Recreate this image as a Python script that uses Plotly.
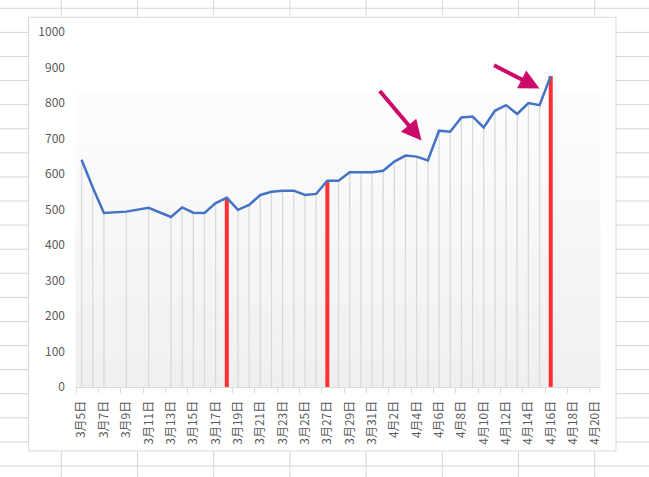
import plotly.graph_objects as go

# ---- data ----
dates = ["2020-03-05", "2020-03-06", "2020-03-07", "2020-03-09", "2020-03-11",
         "2020-03-13", "2020-03-14", "2020-03-15", "2020-03-16", "2020-03-17",
         "2020-03-18", "2020-03-19", "2020-03-20", "2020-03-21", "2020-03-22",
         "2020-03-23", "2020-03-24", "2020-03-25", "2020-03-26", "2020-03-27",
         "2020-03-28", "2020-03-29", "2020-03-30", "2020-03-31", "2020-04-01",
         "2020-04-02", "2020-04-03", "2020-04-04", "2020-04-05", "2020-04-06",
         "2020-04-07", "2020-04-08", "2020-04-09", "2020-04-10", "2020-04-11",
         "2020-04-12", "2020-04-13", "2020-04-14", "2020-04-15", "2020-04-16"]
values = [640, 562, 490, 494, 505,
          479, 506, 491, 490, 518,
          533, 499, 513, 541, 550,
          553, 553, 541, 544, 581,
          581, 605, 605, 605, 609,
          635, 652, 649, 638, 722,
          719, 759, 762, 731, 778,
          794, 769, 800, 794, 876]
highlight_dates = ["2020-03-18", "2020-03-27", "2020-04-16"]

tick_dates = ["2020-03-05", "2020-03-07", "2020-03-09", "2020-03-11", "2020-03-13",
              "2020-03-15", "2020-03-17", "2020-03-19", "2020-03-21", "2020-03-23",
              "2020-03-25", "2020-03-27", "2020-03-29", "2020-03-31", "2020-04-02",
              "2020-04-04", "2020-04-06", "2020-04-08", "2020-04-10", "2020-04-12",
              "2020-04-14", "2020-04-16", "2020-04-18", "2020-04-20"]
tick_labels = ["3月5日", "3月7日", "3月9日", "3月11日", "3月13日", "3月15日",
               "3月17日", "3月19日", "3月21日", "3月23日", "3月25日", "3月27日",
               "3月29日", "3月31日", "4月2日", "4月4日", "4月6日", "4月8日",
               "4月10日", "4月12日", "4月14日", "4月16日", "4月18日", "4月20日"]
y_ticks = [0, 100, 200, 300, 400, 500, 600, 700, 800, 900, 1000]

# ---- geometry ----
W, H = 649, 477
ML, MR, MT, MB = 76, 48, 32, 90
PW, PH = W - ML - MR, H - MT - MB


def px_x(px):
    return (px - ML) / PW


def px_y(py):
    return (H - MB - py) / PH


FONT = "Noto Sans CJK JP, Noto Sans, sans-serif"
val_of = dict(zip(dates, values))

fig = go.Figure()

# drop lines
dx, dy = [], []
for d, v in zip(dates, values):
    dx += [d, d, None]
    dy += [0, v, None]
fig.add_trace(go.Scatter(x=dx, y=dy, mode="lines",
                         line=dict(color="#d9d9d9", width=1.3),
                         hoverinfo="skip", showlegend=False))

# red highlight lines
rx, ry = [], []
for d in highlight_dates:
    rx += [d, d, None]
    ry += [0, val_of[d], None]
fig.add_trace(go.Scatter(x=rx, y=ry, mode="lines",
                         line=dict(color="#ff3030", width=4),
                         hoverinfo="skip", showlegend=False))

# main line
fig.add_trace(go.Scatter(x=dates, y=values, mode="lines",
                         line=dict(color="#4472c4", width=2.5),
                         showlegend=False))

shapes = []
# spreadsheet grid
for k in range(20):
    py = 8.3 + 24.09 * k
    shapes.append(dict(type="line", xref="paper", yref="paper",
                       x0=px_x(0), x1=px_x(W), y0=px_y(py), y1=px_y(py),
                       line=dict(color="#d6d6d6", width=1), layer="below"))
for k in range(8):
    px = 61.3 + 76.2 * k
    shapes.append(dict(type="line", xref="paper", yref="paper",
                       x0=px_x(px), x1=px_x(px), y0=px_y(0), y1=px_y(H),
                       line=dict(color="#d6d6d6", width=1), layer="below"))
# chart box
shapes.append(dict(type="rect", xref="paper", yref="paper",
                   x0=px_x(28.5), x1=px_x(616), y0=px_y(451), y1=px_y(17.3),
                   fillcolor="white", line=dict(color="#d9d9d9", width=1),
                   layer="below"))
# plot-area gradient (bands)
top, bot = 92.0, 386.7
n = 60
c_top, c_bot = 253, 239
for i in range(n):
    y0 = top + (bot - top) * i / n
    y1 = top + (bot - top) * (i + 1) / n
    c = round(c_top + (c_bot - c_top) * (i + 0.5) / n)
    shapes.append(dict(type="rect", xref="paper", yref="paper",
                       x0=px_x(75.5), x1=px_x(600.5), y0=px_y(y1), y1=px_y(y0),
                       fillcolor=f"rgb({c},{c},{c})", line=dict(width=0),
                       layer="below"))

annotations = [
    dict(xref="paper", yref="paper", x=px_x(421.5), y=px_y(140.5),
         ax=-43, ay=-51, showarrow=True, arrowhead=2, arrowsize=1.0,
         arrowwidth=4, arrowcolor="#cc0a6a", text=""),
    dict(xref="paper", yref="paper", x=px_x(539.5), y=px_y(88.5),
         ax=-47, ay=-24, showarrow=True, arrowhead=2, arrowsize=1.0,
         arrowwidth=4, arrowcolor="#cc0a6a", text=""),
]

fig.update_layout(
    width=W, height=H,
    margin=dict(l=ML, r=MR, t=MT, b=MB, pad=0),
    paper_bgcolor="white", plot_bgcolor="rgba(0,0,0,0)",
    shapes=shapes, annotations=annotations,
    font=dict(family=FONT, size=12, color="#595959"),
    showlegend=False,
)
fig.update_xaxes(
    type="date",
    range=["2020-03-04 12:00", "2020-04-20 12:00"],
    tickmode="array", tickvals=tick_dates, ticktext=tick_labels,
    tickangle=-90, ticks="", showgrid=False, zeroline=False,
    showline=True, linecolor="#d9d9d9", linewidth=1,
    ticklabelstandoff=8,
    tickfont=dict(family=FONT, size=12, color="#595959"),
    minor=dict(tickmode="linear", tick0="2020-03-04 12:00", dtick=2 * 86400000,
               ticks="outside", ticklen=5, tickcolor="#d9d9d9", tickwidth=1,
               showgrid=False),
)
fig.update_yaxes(
    range=[0, 1000], tickmode="array", tickvals=y_ticks,
    showgrid=False, zeroline=False, showline=False, ticks="",
    ticklabelstandoff=10,
    tickfont=dict(family=FONT, size=12, color="#595959"),
)

fig.write_html("out.html",
               config={"displayModeBar": False},
               post_script="document.body.style.margin='0';"
                           "document.body.style.overflow='hidden';")
